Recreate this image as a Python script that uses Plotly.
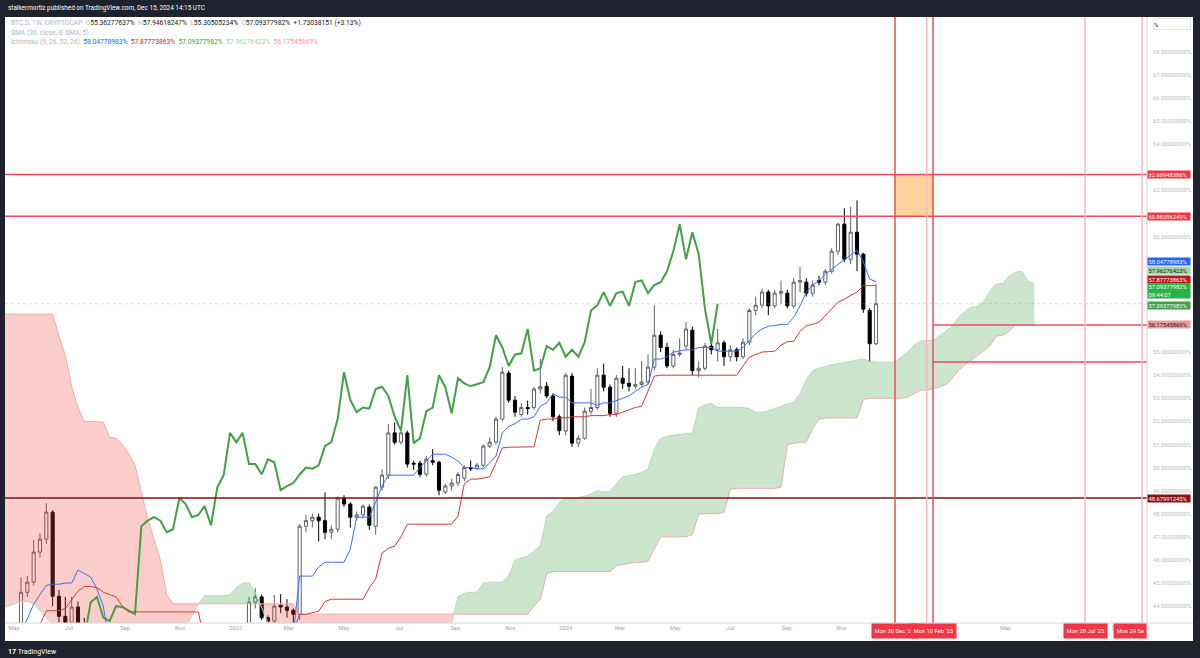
import numpy as np
import pandas as pd
import plotly.graph_objects as go

# ---------------- data (weekly BTC.D, %) ----------------
bar_start = "2022-05-09"  # Monday of the first weekly bar

opens = [
    42.90, 44.60, 45.04, 46.34, 46.90, 48.07, 44.43, 43.56, 43.30, 43.96,
    42.80, 42.30, 41.70, 40.80, 39.90, 39.60, 39.90, 40.60, 41.00, 40.90,
    40.60, 40.10, 39.40, 39.10, 39.80, 40.60, 40.70, 40.50, 40.80, 40.90,
    41.10, 41.20, 40.80, 41.60, 41.90, 42.10, 42.60, 44.17, 44.40, 43.50,
    43.35, 44.04, 43.96, 43.82, 43.65, 47.46, 47.70, 47.85, 47.70, 47.20,
    47.33, 48.68, 48.42, 47.85, 47.95, 48.29, 47.46, 49.15, 49.67, 51.50,
    51.10, 51.50, 50.19, 50.19, 49.71, 50.30, 50.23, 48.94, 49.20, 49.33,
    49.54, 50.00, 49.95, 50.10, 50.93, 51.10, 52.10, 54.09, 52.92, 52.30,
    52.60, 52.60, 53.40, 53.52, 53.10, 52.20, 51.58, 53.96, 51.06, 51.27,
    52.44, 52.60, 54.00, 53.48, 52.35, 53.87, 53.65, 53.52, 53.60, 53.70,
    54.35, 55.73, 55.20, 54.40, 54.90, 55.26, 55.95, 54.20, 54.30, 55.26,
    55.10, 55.40, 54.80, 55.10, 54.80, 55.43, 56.80, 57.03, 57.60, 57.00,
    57.55, 57.55, 57.00, 58.03, 58.03, 57.55, 58.10, 58.03, 58.50, 59.37,
    60.54, 59.02, 60.19, 59.24, 56.81, 55.36277637,
]
highs = [
    45.25, 45.30, 46.86, 47.16, 48.46, 48.15, 44.70, 44.40, 44.40, 44.20,
    43.50, 42.90, 42.10, 41.20, 40.30, 40.20, 40.90, 41.30, 41.40, 41.10,
    40.80, 40.30, 39.60, 40.20, 40.90, 41.00, 40.90, 41.00, 41.20, 41.40,
    41.50, 41.40, 41.90, 42.20, 42.40, 42.90, 44.40, 44.78, 44.50, 43.60,
    44.48, 44.52, 44.30, 43.90, 47.55, 47.95, 48.00, 48.00, 48.93, 47.50,
    48.75, 48.80, 48.50, 48.10, 48.40, 48.40, 49.20, 49.93, 51.88, 51.95,
    51.70, 51.60, 50.30, 50.30, 50.50, 50.80, 50.30, 49.30, 49.50, 49.80,
    50.10, 50.30, 50.20, 51.00, 51.30, 52.20, 54.35, 54.20, 53.10, 52.80,
    52.90, 53.50, 54.70, 53.70, 53.20, 52.30, 54.10, 54.10, 51.40, 52.60,
    53.40, 54.30, 54.50, 53.60, 54.00, 54.40, 54.30, 54.30, 54.60, 54.90,
    57.03, 55.90, 55.40, 55.10, 55.60, 56.30, 56.10, 54.60, 55.40, 55.60,
    56.00, 55.50, 55.30, 55.20, 55.60, 56.90, 57.40, 57.75, 57.70, 57.70,
    58.10, 57.70, 58.20, 58.68, 58.20, 58.10, 58.30, 58.60, 59.50, 60.60,
    61.23, 61.30, 61.57, 59.30, 56.90, 57.94618247,
]
lows = [
    42.70, 44.40, 44.90, 46.10, 46.70, 44.00, 43.30, 43.00, 43.10, 42.60,
    41.90, 41.40, 40.50, 39.60, 39.30, 39.40, 39.70, 40.40, 40.60, 40.30,
    39.90, 39.20, 38.80, 39.00, 39.60, 40.30, 40.20, 40.30, 40.50, 40.70,
    40.80, 40.50, 40.60, 41.30, 41.60, 41.90, 42.50, 43.90, 43.40, 43.10,
    43.20, 43.70, 43.50, 43.20, 43.40, 47.20, 47.40, 46.80, 46.90, 46.90,
    47.20, 48.30, 47.40, 47.70, 47.80, 47.30, 47.10, 49.00, 49.50, 51.00,
    51.00, 50.00, 49.90, 49.60, 49.60, 50.10, 48.80, 48.85, 49.00, 49.20,
    49.40, 49.85, 49.90, 50.00, 50.85, 51.00, 52.00, 52.80, 52.20, 52.20,
    52.30, 52.50, 53.20, 53.00, 52.00, 51.40, 51.40, 50.90, 50.90, 51.20,
    52.30, 52.50, 53.30, 52.20, 52.20, 53.40, 53.30, 53.40, 53.50, 53.60,
    54.20, 55.00, 54.30, 54.30, 54.80, 55.10, 54.00, 53.90, 54.20, 54.90,
    54.60, 54.40, 54.60, 54.60, 54.70, 55.30, 56.60, 56.90, 56.60, 56.90,
    57.10, 56.90, 56.90, 57.60, 57.40, 57.40, 57.90, 57.90, 58.40, 59.20,
    58.90, 58.80, 58.50, 56.70, 54.60, 55.30505234,
]
closes = [
    44.60, 45.04, 46.34, 46.90, 48.07, 44.43, 43.56, 43.30, 43.96, 42.80,
    42.30, 41.70, 40.80, 39.90, 39.60, 39.90, 40.60, 41.00, 40.90, 40.60,
    40.10, 39.40, 39.10, 39.80, 40.60, 40.70, 40.50, 40.80, 40.90, 41.10,
    41.20, 40.80, 41.60, 41.90, 42.10, 42.60, 44.17, 44.40, 43.50, 43.35,
    44.00, 43.96, 43.82, 43.65, 47.46, 47.70, 47.85, 47.70, 47.20, 47.33,
    48.68, 48.42, 47.85, 47.95, 48.33, 47.50, 49.15, 49.67, 51.50, 51.10,
    51.50, 50.15, 50.15, 49.71, 50.36, 50.23, 49.02, 49.20, 49.33, 49.70,
    50.00, 49.95, 50.10, 50.93, 51.10, 52.10, 54.13, 52.92, 52.40, 52.60,
    52.55, 53.40, 53.50, 53.10, 52.20, 51.60, 54.00, 51.06, 51.27, 52.44,
    52.60, 54.00, 53.48, 52.35, 53.87, 53.65, 53.52, 53.60, 53.70, 54.35,
    55.73, 55.20, 54.40, 54.90, 54.95, 56.00, 54.20, 54.30, 55.26, 55.10,
    55.40, 54.80, 55.10, 54.80, 55.43, 56.80, 57.03, 57.60, 57.00, 57.55,
    57.62, 57.00, 58.03, 58.10, 57.55, 57.90, 58.03, 58.50, 59.37, 60.54,
    59.02, 60.19, 59.24, 56.86, 55.36339831, 57.09377982,
]
# Ichimoku conversion (tenkan) and base (kijun) lines, one value per bar
tenkan = [
    42.90, 43.44, 44.09, 44.52, 44.90, 44.95, 44.95, 45.00, 45.00, 45.56,
    45.40, 45.26, 44.74, 44.00, 42.30, 41.60, 41.00, 40.60, 40.30, 40.20,
    40.10, 40.00, 40.00, 40.10, 40.20, 40.00, 39.90, 40.00, 40.20, 40.30,
    40.50, 40.60, 40.70, 40.80, 41.00, 41.20, 41.40, 41.60, 41.80, 42.00,
    42.20, 42.40, 42.60, 42.80, 45.30, 45.30, 45.30, 45.70, 45.90, 45.90,
    45.90, 45.90, 46.47, 47.85, 47.85, 47.85, 48.50, 49.20, 49.67, 49.67,
    49.67, 49.67, 49.67, 50.00, 50.28, 50.58, 50.58, 50.58, 50.45, 50.28,
    50.00, 50.00, 49.95, 49.95, 50.20, 50.50, 51.50, 51.78, 51.90, 52.10,
    52.10, 52.20, 52.66, 52.80, 53.20, 53.05, 53.05, 52.80, 52.80, 52.80,
    52.80, 52.70, 52.80, 52.80, 52.90, 53.00, 53.10, 53.30, 53.48, 53.60,
    54.70, 54.70, 54.80, 55.00, 55.04, 55.10, 55.10, 55.20, 55.20, 55.20,
    55.04, 55.04, 55.04, 55.04, 55.20, 55.50, 55.80, 56.00, 56.12, 56.15,
    56.20, 56.20, 56.50, 57.00, 57.60, 57.90, 58.10, 58.37, 58.60, 58.80,
    59.00, 59.20, 59.40, 58.90, 58.16, 58.04778983,
]
kijun = [
    42.60, 42.80, 43.00, 43.20, 43.80, 43.80, 43.80, 43.90, 44.30, 44.65,
    44.85, 44.85, 44.80, 44.60, 44.50, 44.40, 44.00, 43.75, 43.75, 43.75,
    43.75, 43.75, 43.75, 43.75, 43.75, 43.75, 43.75, 43.75, 43.75, 42.50,
    42.20, 42.00, 41.90, 41.80, 41.70, 41.60, 41.60, 41.70, 41.80, 42.00,
    42.20, 42.50, 42.80, 42.90, 43.65, 43.65, 43.70, 43.78, 44.20, 44.30,
    44.30, 44.30, 44.30, 44.30, 44.30, 44.80, 45.17, 46.30, 46.50, 46.60,
    47.00, 47.55, 47.55, 47.55, 47.55, 47.55, 47.55, 47.55, 47.55, 47.90,
    49.30, 49.50, 49.50, 49.55, 49.60, 50.20, 50.85, 50.88, 50.88, 50.88,
    50.88, 50.90, 52.05, 52.10, 52.10, 52.15, 52.15, 52.20, 52.20, 52.20,
    52.25, 52.25, 52.25, 52.30, 52.30, 52.40, 52.50, 52.60, 52.66, 53.30,
    53.96, 54.00, 54.00, 54.00, 54.00, 54.00, 54.00, 54.00, 54.00, 54.00,
    54.00, 54.00, 54.00, 54.00, 54.40, 54.78, 54.90, 55.00, 55.02, 55.04,
    55.30, 55.45, 55.47, 55.90, 56.15, 56.20, 56.30, 56.60, 56.90, 57.16,
    57.30, 57.45, 57.60, 57.88, 57.88, 57.87773863,
]
# Leading spans (already displaced), starting 3 weeks before the first bar
cloud_start_week = -3
span_a = [
    43.90, 44.00, 44.10,
    44.20, 44.20, 44.10, 43.80, 43.50, 43.20, 42.90, 42.60, 42.40, 42.30,
    42.10, 42.00, 41.80, 41.70, 41.60, 41.60, 41.50, 41.50, 41.60, 41.70,
    41.90, 42.00, 42.20, 42.40, 42.60, 42.80, 43.10, 43.60, 44.10, 44.45,
    44.45, 44.45, 44.45, 44.50, 44.80, 45.00, 45.00, 44.60, 43.90, 43.20,
    42.60, 42.30, 42.10, 42.00, 42.00, 41.90, 41.90, 42.00, 42.00, 42.10,
    42.10, 42.20, 42.20, 42.30, 42.30, 42.40, 42.40, 42.50, 42.50, 42.60,
    42.60, 42.70, 42.70, 42.80, 42.80, 42.90, 42.90, 43.00, 43.30, 44.40,
    44.55, 44.60, 44.60, 45.00, 45.04, 45.04, 45.04, 45.30, 46.00, 46.10,
    46.16, 46.40, 46.60, 47.90, 48.10, 48.50, 48.65, 48.65, 48.70, 48.76,
    48.85, 49.00, 48.95, 48.95, 49.30, 49.60, 49.65, 49.70, 49.80, 49.93,
    50.80, 51.25, 51.36, 51.40, 51.42, 51.45, 51.50, 52.57, 52.70, 52.79,
    52.60, 52.60, 52.60, 52.60, 52.60, 52.55, 52.40, 52.40, 52.45, 52.55,
    52.66, 52.75, 52.83, 53.20, 53.80, 54.20, 54.30, 54.38, 54.45, 54.50,
    54.56, 54.60, 54.65, 54.70, 54.60, 54.56, 54.56, 54.56, 54.56, 54.80,
    55.00, 55.30, 55.47, 55.50, 55.50, 55.70, 55.90, 56.10, 56.50, 56.75,
    56.94, 56.98, 57.20, 57.65, 57.95, 57.98, 58.29, 58.46, 58.50, 58.07,
    57.96276423,
]
span_b = [
    56.64, 56.64, 56.64,
    56.64, 56.64, 56.64, 56.64, 56.64, 56.64, 55.70, 54.85, 53.50, 52.60,
    52.00, 52.00, 52.00, 51.97, 51.30, 51.27, 51.00, 50.60, 50.10, 48.90,
    47.80, 46.90, 46.00, 44.50, 44.10, 44.10, 44.10, 44.10, 44.10, 44.10,
    44.10, 44.10, 44.10, 44.10, 44.10, 44.10, 44.10, 44.10, 44.10, 44.10,
    44.10, 44.10, 44.10, 44.10, 43.65, 43.65, 43.65, 43.65, 43.65, 43.65,
    43.65, 43.65, 43.65, 43.65, 43.65, 43.65, 43.65, 43.65, 43.65, 43.65,
    43.65, 43.65, 43.65, 43.65, 43.65, 43.65, 43.65, 43.65, 43.65, 43.65,
    43.65, 43.65, 43.65, 43.65, 43.65, 43.65, 43.65, 43.65, 43.65, 43.65,
    43.65, 44.00, 44.30, 45.40, 45.50, 45.50, 45.50, 45.50, 45.50, 45.50,
    45.50, 45.50, 45.50, 45.50, 45.75, 45.80, 45.85, 45.90, 45.90, 45.95,
    46.50, 47.00, 47.00, 47.00, 47.00, 47.00, 47.10, 47.98, 48.00, 48.00,
    48.00, 48.07, 49.06, 49.10, 49.10, 49.10, 49.10, 49.10, 49.10, 49.10,
    49.15, 51.00, 51.05, 51.10, 51.10, 51.70, 52.10, 52.15, 52.15, 52.15,
    52.15, 52.15, 52.15, 52.96, 53.00, 53.00, 53.00, 53.00, 53.00, 53.00,
    53.05, 53.20, 53.35, 53.35, 53.40, 53.48, 53.60, 53.85, 54.20, 54.45,
    54.65, 54.85, 55.05, 55.30, 55.69, 55.73, 55.90, 56.17545869, 56.17545869, 56.17545869,
    56.17545869,
]
lagging_shift = 25  # weeks the lagging span is drawn back

# drawings
red_levels = [62.68948386, 60.88386249]
support_level = 48.67991245
ray_start = "2025-02-10"
ray_levels = [56.17, 54.57]
red_vlines = ["2024-12-30", "2025-02-10"]
pink_vlines = ["2025-02-03", "2025-07-28", "2025-09-29"]
zone_x = ["2024-12-30", "2025-02-10"]
zone_y = [60.88386249, 62.68948386]

y_tick_values = list(range(44, 69))
x_tick_dates = ["2022-05-01", "2022-07-01", "2022-09-01", "2022-11-01", "2023-01-01",
                "2023-03-01", "2023-05-01", "2023-07-01", "2023-09-01", "2023-11-01",
                "2024-01-01", "2024-03-01", "2024-05-01", "2024-07-01", "2024-09-01",
                "2024-11-01", "2025-05-01", "2025-09-01"]
x_tick_text = ["May", "Jul", "Sep", "Nov", "2023", "Mar", "May", "Jul", "Sep", "Nov",
               "2024", "Mar", "May", "Jul", "Sep", "Nov", "May", "Sep"]
date_labels = [("2024-12-30", "Mon 30 Dec '24"), ("2025-02-10", "Mon 10 Feb '25"),
               ("2025-07-28", "Mon 28 Jul '25")]
countdown = "09:44:07"

# ---------------- derived dates ----------------
t0 = pd.Timestamp(bar_start)
n = len(closes)
for arr in (opens, highs, lows, tenkan, kijun):
    assert len(arr) == n
assert len(span_a) == len(span_b)
bar_dates = [t0 + pd.Timedelta(weeks=i) for i in range(n)]
lag_dates = [t0 + pd.Timedelta(weeks=i - lagging_shift) for i in range(n)]
cloud_dates = [t0 + pd.Timedelta(weeks=cloud_start_week + k) for k in range(len(span_a))]

FONT = "Roboto, Arial, sans-serif"
GRAY = "#a3a6af"
DARK = "#131722"
RED = "#f23645"
Y_RANGE = [43.27, 69.51]
PLOT_H = 606.0
PX_PER_UNIT = PLOT_H / (Y_RANGE[1] - Y_RANGE[0])

fig = go.Figure()

# ---------------- cloud ----------------
xs = np.array([d.value for d in cloud_dates], dtype=float)
a = np.array(span_a, dtype=float)
b = np.array(span_b, dtype=float)
diff = a - b
segments = []
cx, ca, cb = [xs[0]], [a[0]], [b[0]]
cs = diff[0] >= 0
for k in range(1, len(xs)):
    s = diff[k] >= 0
    if s != cs:
        t = diff[k - 1] / (diff[k - 1] - diff[k])
        xc = xs[k - 1] + t * (xs[k] - xs[k - 1])
        yc = a[k - 1] + t * (a[k] - a[k - 1])
        cx.append(xc); ca.append(yc); cb.append(yc)
        segments.append((cs, cx, ca, cb))
        cx, ca, cb = [xc], [yc], [yc]
        cs = s
    cx.append(xs[k]); ca.append(a[k]); cb.append(b[k])
segments.append((cs, cx, ca, cb))

for bull, sx, sa, sb in segments:
    px = pd.to_datetime(np.array(sx + sx[::-1], dtype="int64"))
    py = list(sa) + list(sb[::-1])
    fig.add_trace(go.Scatter(
        x=px, y=py, mode="lines", fill="toself", line=dict(width=0),
        fillcolor="rgba(67,160,71,0.27)" if bull else "rgba(244,67,54,0.26)",
        hoverinfo="skip", showlegend=False))

fig.add_trace(go.Scatter(x=cloud_dates, y=span_a, mode="lines",
                         line=dict(color="#b5dcb6", width=1), hoverinfo="skip", showlegend=False))
fig.add_trace(go.Scatter(x=cloud_dates, y=span_b, mode="lines",
                         line=dict(color="#f2aaaa", width=1), hoverinfo="skip", showlegend=False))

# ---------------- candles ----------------
fig.add_trace(go.Candlestick(
    x=bar_dates, open=opens, high=highs, low=lows, close=closes,
    increasing=dict(line=dict(color="#5d606b", width=1), fillcolor="#ffffff"),
    decreasing=dict(line=dict(color="#000000", width=1), fillcolor="#000000"),
    whiskerwidth=0, showlegend=False, hoverinfo="skip"))

# ---------------- ichimoku lines ----------------
fig.add_trace(go.Scatter(x=lag_dates, y=closes, mode="lines",
                         line=dict(color="#43a047", width=2), hoverinfo="skip", showlegend=False))
fig.add_trace(go.Scatter(x=bar_dates, y=tenkan, mode="lines",
                         line=dict(color="#3d6ff5", width=1), hoverinfo="skip", showlegend=False))
fig.add_trace(go.Scatter(x=bar_dates, y=kijun, mode="lines",
                         line=dict(color="#d23a3a", width=1), hoverinfo="skip", showlegend=False))

# ---------------- shapes ----------------
x_end = "2025-10-04 12:00"
x_begin = "2022-04-21 08:00"
shapes = []
shapes.append(dict(type="rect", xref="paper", yref="paper", x0=0, x1=1.0403, y0=-0.0297, y1=1.0,
                   fillcolor="#ffffff", line=dict(width=0), layer="below"))
shapes.append(dict(type="rect", xref="x", yref="y", x0=zone_x[0], x1=zone_x[1],
                   y0=zone_y[0], y1=zone_y[1], fillcolor="#fed39c", line=dict(width=0), layer="below"))
shapes.append(dict(type="line", xref="paper", yref="y", x0=0, x1=1, y0=closes[-1], y1=closes[-1],
                   line=dict(color="rgba(120,170,120,0.35)", width=1, dash="dot")))
for lv in red_levels:
    shapes.append(dict(type="line", xref="paper", yref="y", x0=0, x1=1, y0=lv, y1=lv,
                       line=dict(color="#ee4b57", width=1.5)))
shapes.append(dict(type="line", xref="paper", yref="y", x0=0, x1=1, y0=support_level, y1=support_level,
                   line=dict(color="#7f0f12", width=1.6)))
for lv in ray_levels:
    shapes.append(dict(type="line", xref="x", yref="y", x0=ray_start, x1=x_end, y0=lv, y1=lv,
                       line=dict(color="#ee4b57", width=1.5)))
for d in pink_vlines:
    shapes.append(dict(type="line", xref="x", yref="paper", x0=d, x1=d, y0=0, y1=1,
                       line=dict(color="#f6b8bd", width=1.5)))
for d in red_vlines:
    shapes.append(dict(type="line", xref="x", yref="paper", x0=d, x1=d, y0=0, y1=1,
                       line=dict(color="#ee4b57", width=1.5)))
shapes.append(dict(type="line", xref="paper", yref="paper", x0=0, x1=1.0403, y0=0, y1=0,
                   line=dict(color="#d1d4dc", width=1)))
shapes.append(dict(type="line", xref="paper", yref="paper", x0=1, x1=1, y0=-0.0297, y1=1,
                   line=dict(color="#d1d4dc", width=1)))

# ---------------- annotations ----------------
ann = []
ann.append(dict(xref="paper", yref="paper", x=0.0008, y=1.0149, xanchor="left", yanchor="middle",
                text="stalkermortiz published on TradingView.com, Dec 15, 2024 14:15 UTC",
                showarrow=False, font=dict(family=FONT, size=6.4, color="#ffffff")))
ann.append(dict(xref="paper", yref="paper", x=0.0008, y=-0.0479, xanchor="left", yanchor="middle",
                text="<b>17</b> TradingView", showarrow=False,
                font=dict(family=FONT, size=7, color="#ffffff")))

chg = closes[-1] - closes[-2]
pct = chg / closes[-2] * 100
lg = "#b2b5be"
line1 = (f'<span style="color:{lg}">BTC.D, 1W, CRYPTOCAP</span>  '
         f'<span style="color:{lg}">O</span>{opens[-1]:.8f}%  '
         f'<span style="color:{lg}">H</span>{highs[-1]:.8f}%  '
         f'<span style="color:{lg}">L</span>{lows[-1]:.8f}%  '
         f'<span style="color:{lg}">C</span>{closes[-1]:.8f}%  '
         f'{chg:+.8f} ({pct:+.2f}%)')
line2 = f'<span style="color:{lg}">SMA (30, close, 0, SMA, 5)</span>'
line3 = (f'<span style="color:{lg}">Ichimoku (9, 26, 52, 26)</span>  '
         f'<span style="color:#2962ff">{tenkan[-1]:.8f}%</span>  '
         f'<span style="color:#c62828">{kijun[-1]:.8f}%</span>  '
         f'<span style="color:#43a047">{closes[-1]:.8f}%</span>  '
         f'<span style="color:#a5d6a7">{span_a[-1]:.8f}%</span>  '
         f'<span style="color:#ef9a9a">{span_b[-1]:.8f}%</span>')
for txt, yy in [(line1, 0.9901), (line2, 0.9736), (line3, 0.9587)]:
    ann.append(dict(xref="paper", yref="paper", x=0.0035, y=yy, xanchor="left", yanchor="middle",
                    text=txt, showarrow=False, font=dict(family=FONT, size=6.7, color=DARK)))

ann.append(dict(xref="paper", yref="paper", x=1.0053, y=0.9884, xanchor="left", yanchor="middle",
                text="%", align="left", width=36, height=10, showarrow=False, bgcolor="#ffffff",
                bordercolor="#e0e3eb", borderwidth=1, borderpad=0,
                font=dict(family=FONT, size=6, color=DARK)))

# price-scale labels: (value, text, bg, fg, pixel shift, number of lines)
labels = [
    (red_levels[0], f"{red_levels[0]:.8f}%", RED, "#ffffff", 0, 1),
    (red_levels[1], f"{red_levels[1]:.8f}%", RED, "#ffffff", 0, 1),
    (support_level, f"{support_level:.8f}%", "#8a1313", "#ffffff", 0, 1),
    (span_b[-1], f"{span_b[-1]:.8f}%", "#ef9a9a", DARK, 0, 1),
    (closes[-1], f"{closes[-1]:.8f}%", "#43a047", "#ffffff", -1.4, 1),
    (closes[-1], f"{closes[-1]:.8f}%<br>{countdown}", "#28b24a", "#ffffff", 12.8, 2),
    (kijun[-1], f"{kijun[-1]:.8f}%", "#b71c1c", "#ffffff", 6.6, 1),
    (span_a[-1], f"{span_a[-1]:.8f}%", "#a5d6a7", DARK, 13.4, 1),
    (tenkan[-1], f"{tenkan[-1]:.8f}%", "#2962ff", "#ffffff", 20.0, 1),
]
label_centres = []
for val, txt, bg, fg, shift, nl in labels:
    ann.append(dict(xref="paper", yref="y", x=1.0, y=val, xanchor="left", yanchor="middle",
                    yshift=shift, text=txt, align="left", width=41, height=6.4 * nl,
                    showarrow=False, bgcolor=bg, borderpad=0.5,
                    font=dict(family=FONT, size=5.8, color=fg)))
    label_centres.append((val + shift / PX_PER_UNIT, 3.6 * nl + 3.6))

# tick labels hidden behind price-scale labels (as on the source chart)
shown_ticks = [v for v in y_tick_values
               if all(abs(v - c) * PX_PER_UNIT > half for c, half in label_centres)]

for d, txt in date_labels:
    ann.append(dict(xref="x", yref="paper", x=d, y=-0.0135, xanchor="center", yanchor="middle",
                    text=txt, showarrow=False, bgcolor=RED, borderpad=2.5, height=9,
                    font=dict(family=FONT, size=5.8, color="#ffffff")))
ann.append(dict(xref="paper", yref="paper", x=1.0, y=-0.0135, xanchor="right", yanchor="middle",
                text="Mon 29 Se", showarrow=False, bgcolor=RED, borderpad=2.5, height=9,
                font=dict(family=FONT, size=5.8, color="#ffffff")))

fig.update_layout(
    width=1200, height=658,
    margin=dict(l=5, r=53, t=17, b=35),
    paper_bgcolor="#1e222d", plot_bgcolor="#ffffff",
    showlegend=False, hovermode=False,
    shapes=shapes, annotations=ann,
    font=dict(family=FONT),
    xaxis=dict(type="date", range=[x_begin, x_end], rangeslider=dict(visible=False),
               showgrid=False, zeroline=False, showline=False, ticks="",
               tickvals=x_tick_dates, ticktext=x_tick_text,
               tickfont=dict(family=FONT, size=5.8, color=GRAY)),
    yaxis=dict(range=Y_RANGE, side="right", showgrid=False, zeroline=False,
               showline=False, ticks="", tickvals=shown_ticks,
               ticktext=[f"{v:.8f}%" for v in shown_ticks],
               ticklabelstandoff=5,
               tickfont=dict(family=FONT, size=5.8, color="#b8bbc3")),
)

fig.write_html("out.html")
